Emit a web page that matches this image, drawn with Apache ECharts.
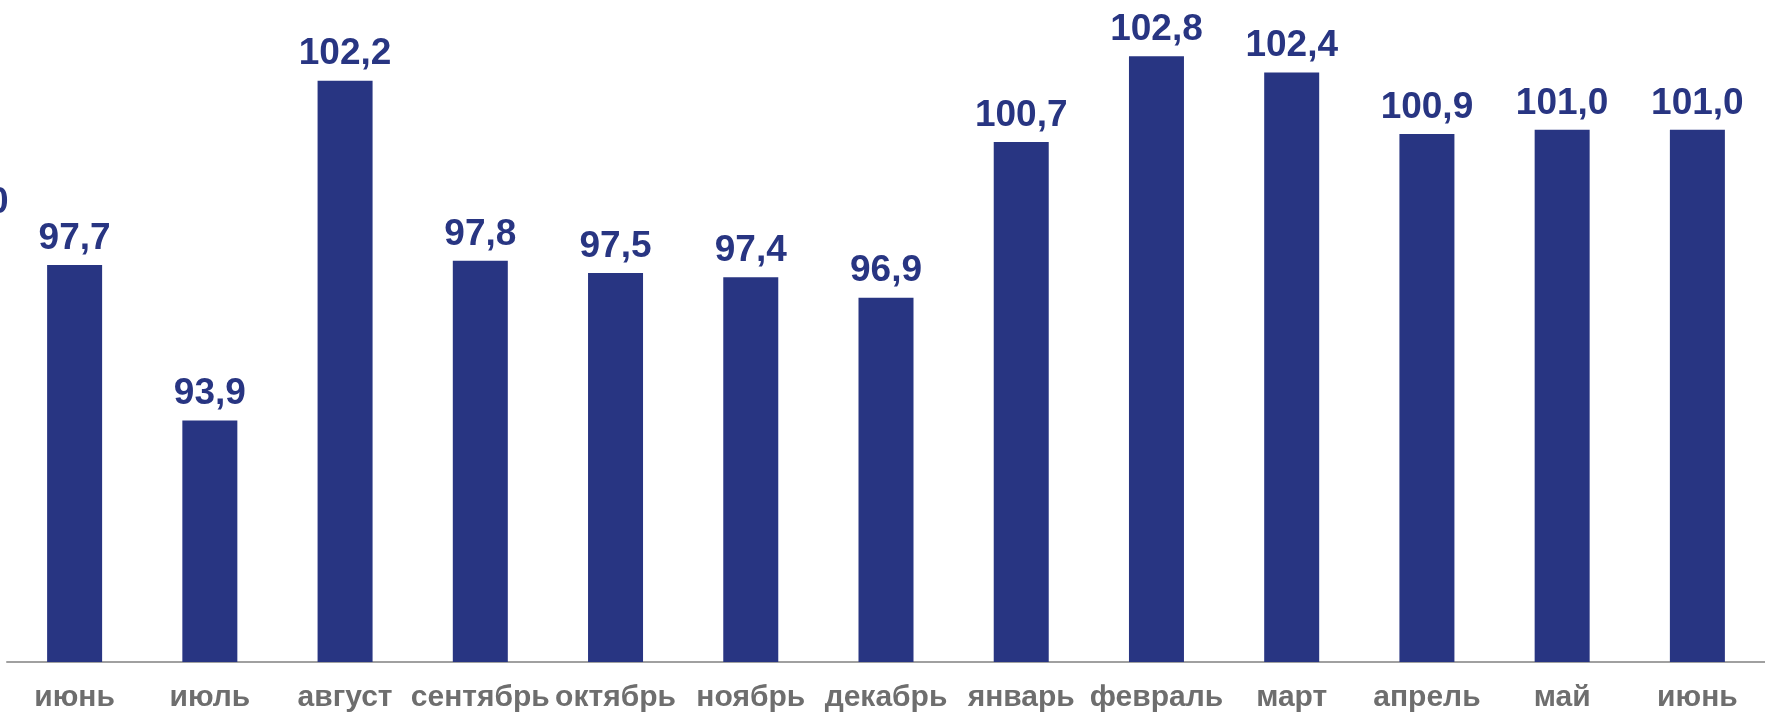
<!DOCTYPE html>
<html>
<head>
<meta charset="utf-8">
<script src="https://cdn.jsdelivr.net/npm/echarts@6/dist/echarts.min.js"></script>
<style>
html,body{margin:0;padding:0;background:#fff;}
#chart{width:1765px;height:714px;}
</style>
</head>
<body>
<div id="chart"></div>
<script>
var categories = ['июнь','июль','август','сентябрь','октябрь','ноябрь','декабрь','январь','февраль','март','апрель','май','июнь'];
var values = [97.7, 93.9, 102.2, 97.8, 97.5, 97.4, 96.9, 100.7, 102.8, 102.4, 100.9, 101.0, 101.0];
var yMin = 88;
var yMax = 104;

var chart = echarts.init(document.getElementById('chart'));
chart.setOption({
  animation: false,
  grid: {left: 7, top: 7, width: 1781, height: 655, containLabel: false},
  xAxis: {
    type: 'category',
    data: categories,
    axisLine: {show: true, lineStyle: {color: '#a0a0a0', width: 2}},
    axisTick: {show: false},
    axisLabel: {
      color: '#6e6e6e', fontSize: 30, fontWeight: 'bold',
      fontFamily: 'Liberation Sans, Arial, sans-serif', margin: 21, interval: 0
    }
  },
  yAxis: {
    type: 'value', min: yMin, max: yMax, show: false,
    splitLine: {show: false}
  },
  series: [{
    type: 'bar',
    data: values,
    barWidth: 55,
    itemStyle: {color: '#283582'},
    label: {
      show: true, position: 'top', distance: 8,
      color: '#283582', fontSize: 37, fontWeight: 'bold',
      fontFamily: 'Liberation Sans, Arial, sans-serif',
      formatter: function (p) { return p.value.toFixed(1).replace('.', ','); }
    }
  }],
  graphic: [{
    type: 'text', left: -12, top: 184,
    style: {text: '0', fill: '#283582', font: 'bold 37px "Liberation Sans", Arial, sans-serif'}
  }]
});
</script>
</body>
</html>
